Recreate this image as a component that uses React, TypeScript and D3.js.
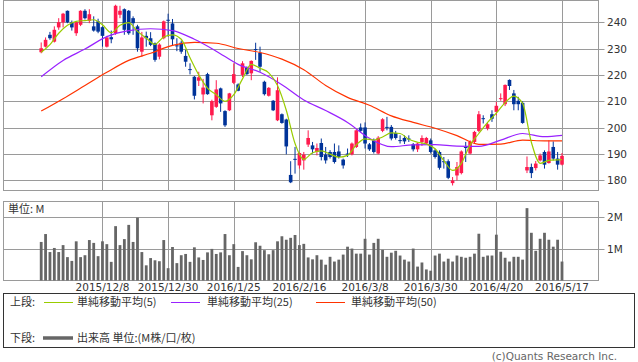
import React, { useEffect, useRef } from 'react';
import * as d3 from 'd3';

// daily OHLC, 2015/11/17 .. 2016/5/17 (120 sessions)
const open = [
  228.6, 230.7, 235.2, 232.6, 238.0, 239.9, 244.3, 239.9, 235.8, 239.0,
  244.3, 240.5, 238.4, 240.3, 238.1, 230.7, 234.3, 235.8, 242.8, 244.9,
  244.3, 241.5, 238.4, 228.8, 234.8, 233.9, 232.0, 226.9, 233.9, 240.9,
  239.5, 231.2, 232.2, 227.2, 222.2, 219.3, 217.8, 212.6, 220.3, 204.7,
  207.9, 214.9, 206.3, 206.6, 217.0, 216.4, 220.0, 222.8, 220.6, 229.8,
  228.4, 217.4, 212.1, 210.2, 202.8, 205.1, 203.1, 182.1, 188.2, 185.7,
  187.6, 193.6, 193.3, 190.8, 194.2, 189.8, 190.8, 190.8, 191.0, 187.9,
  190.2, 189.9, 192.7, 200.1, 200.1, 193.7, 195.2, 190.2, 198.8, 200.3,
  200.3, 198.0, 195.3, 196.1, 195.9, 193.7, 191.8, 194.6, 194.0, 195.2,
  191.4, 190.8, 187.3, 187.3, 179.0, 181.9, 182.8, 192.7, 190.2, 194.6,
  198.8, 203.6, 199.7, 205.1, 206.0, 211.0, 208.9, 218.1, 213.0, 210.2,
  209.4, 183.8, 185.1, 184.7, 187.6, 190.8, 186.6, 192.7, 188.3, 186.0,
];
const high = [
  232.3, 234.2, 236.3, 238.4, 241.5, 243.5, 244.4, 240.6, 240.3, 244.5,
  244.9, 244.9, 242.2, 241.3, 238.4, 234.8, 236.8, 246.6, 246.2, 245.2,
  244.6, 242.2, 239.0, 236.3, 236.4, 236.2, 232.3, 232.0, 240.6, 243.2,
  241.2, 233.9, 233.0, 229.5, 224.4, 219.6, 221.2, 218.5, 220.8, 210.6,
  218.0, 215.2, 206.6, 213.2, 224.4, 216.8, 225.2, 223.2, 225.5, 232.2,
  230.7, 217.8, 215.4, 210.5, 219.1, 205.4, 203.4, 187.3, 192.7, 190.6,
  190.8, 199.0, 194.6, 194.0, 195.9, 192.7, 191.5, 194.0, 193.3, 188.3,
  192.1, 194.4, 199.4, 201.6, 202.0, 194.2, 195.9, 196.8, 203.6, 204.1,
  201.0, 198.8, 197.1, 197.1, 197.1, 194.2, 194.4, 197.1, 196.5, 195.9,
  192.0, 191.4, 188.9, 188.0, 181.3, 187.0, 191.4, 194.6, 195.2, 198.8,
  206.3, 204.7, 201.8, 206.6, 209.8, 213.0, 216.4, 218.3, 214.3, 211.7,
  210.0, 189.1, 186.4, 187.4, 190.2, 191.4, 195.2, 194.8, 190.8, 190.4,
];
const low = [
  228.2, 230.4, 233.3, 232.3, 237.1, 238.0, 239.6, 236.8, 234.8, 238.5,
  241.0, 239.6, 236.4, 235.8, 230.7, 230.4, 232.0, 235.2, 241.5, 235.2,
  235.2, 235.2, 228.8, 226.9, 230.7, 230.9, 225.0, 225.9, 233.5, 234.5,
  231.0, 229.0, 228.0, 223.1, 220.2, 210.7, 215.8, 209.2, 212.5, 202.8,
  207.5, 206.0, 200.3, 206.3, 216.5, 213.8, 219.2, 220.0, 218.0, 225.7,
  221.2, 212.2, 211.8, 206.3, 202.5, 201.5, 189.9, 179.0, 182.6, 184.5,
  184.1, 192.7, 190.2, 189.5, 187.6, 186.4, 188.3, 186.4, 188.3, 184.5,
  188.9, 189.5, 192.3, 198.3, 192.1, 191.2, 190.2, 189.9, 198.3, 199.0,
  195.2, 195.5, 194.0, 193.8, 194.6, 191.0, 190.8, 193.1, 193.6, 190.2,
  188.3, 184.1, 184.5, 180.5, 178.1, 180.0, 182.3, 187.0, 189.9, 194.0,
  198.3, 201.6, 199.0, 202.2, 204.7, 210.2, 208.2, 214.3, 206.6, 206.6,
  201.5, 182.8, 180.9, 183.8, 187.2, 184.5, 186.4, 187.6, 184.1, 185.7,
];
const close = [
  230.1, 233.3, 233.9, 237.1, 240.0, 243.2, 239.9, 238.0, 240.0, 244.3,
  241.5, 243.0, 236.8, 236.4, 234.8, 234.2, 233.5, 246.2, 244.3, 237.1,
  235.8, 239.6, 230.1, 234.2, 233.9, 231.4, 225.7, 231.5, 240.3, 240.6,
  233.5, 230.9, 228.8, 225.0, 222.0, 212.1, 219.1, 215.2, 212.7, 210.1,
  214.5, 209.2, 200.9, 213.0, 220.3, 214.0, 224.4, 220.3, 225.3, 229.5,
  223.1, 212.7, 215.1, 206.6, 214.2, 201.8, 192.9, 179.3, 188.0, 190.4,
  189.8, 196.1, 191.8, 192.3, 188.9, 187.6, 188.9, 187.0, 188.9, 185.7,
  190.0, 194.0, 199.0, 198.8, 194.0, 191.8, 190.8, 196.2, 203.2, 200.1,
  195.9, 196.1, 195.1, 194.8, 195.8, 191.8, 194.0, 196.1, 196.1, 190.8,
  188.9, 184.8, 187.1, 181.0, 180.0, 185.1, 191.0, 192.5, 194.6, 198.4,
  205.1, 203.4, 201.3, 203.4, 208.3, 211.2, 216.2, 215.8, 208.9, 208.9,
  201.8, 185.1, 182.8, 186.4, 189.5, 186.0, 191.0, 188.3, 186.0, 189.3,
];
// volume, millions
const volume = [
  1.22, 1.47, 0.90, 1.03, 0.90, 1.12, 0.74, 0.62, 1.24, 0.74,
  0.80, 1.28, 1.19, 0.77, 1.24, 1.15, 0.59, 1.72, 1.12, 1.31,
  1.76, 1.22, 1.99, 0.90, 0.48, 0.71, 0.64, 0.61, 1.28, 0.39,
  1.06, 0.55, 0.80, 0.84, 0.59, 1.05, 0.73, 0.65, 0.89, 1.00,
  0.84, 0.89, 1.47, 0.80, 1.15, 0.43, 0.93, 0.80, 0.67, 1.21,
  1.10, 0.96, 0.83, 0.96, 1.24, 1.40, 1.29, 1.35, 1.44, 1.12,
  1.16, 0.73, 0.67, 0.80, 0.66, 0.50, 0.75, 0.60, 0.66, 0.82,
  1.07, 1.01, 0.85, 0.85, 1.32, 0.82, 1.19, 1.32, 0.97, 0.75,
  0.88, 0.94, 0.79, 0.66, 0.60, 1.01, 0.44, 0.57, 0.35, 0.31,
  0.79, 0.85, 0.60, 0.69, 0.60, 0.79, 0.75, 0.72, 0.75, 0.85,
  1.48, 0.75, 0.79, 0.79, 1.45, 0.91, 0.72, 0.60, 0.75, 0.75,
  0.66, 2.29, 1.51, 0.94, 1.32, 1.51, 1.29, 1.07, 1.29, 0.60,
];

// moving averages
const ma5Index = [
  0, 2, 4, 6, 8, 10, 12, 14, 16, 18, 20, 22, 24, 26, 28, 30, 32, 34, 36, 38,
  40, 42, 44, 46, 48, 50, 52, 54, 56, 58, 60, 62, 64, 66, 68, 70, 72, 74, 76, 78,
  80, 82, 84, 86, 88, 90, 92, 94, 96, 98, 100, 102, 104, 106, 108, 110, 112, 114, 116, 119,
];
const ma5 = [
  228.6, 231.5, 235.8, 238.8, 240.3, 240.6, 240.9, 239.0, 236.0, 238.8,
  239.8, 236.5, 234.0, 231.6, 234.4, 235.2, 233.5, 226.5, 220.0, 215.0,
  212.5, 210.0, 212.5, 218.5, 224.0, 222.5, 220.8, 216.0, 206.6, 194.0,
  188.0, 190.5, 191.2, 190.0, 188.8, 189.5, 193.5, 195.8, 195.3, 196.5,
  198.0, 197.8, 195.6, 194.5, 193.8, 192.0, 187.5, 183.8, 186.5, 193.5,
  197.8, 202.0, 205.5, 209.5, 212.0, 209.2, 194.5, 186.5, 187.6, 187.9,
];
const maLongIndex = [
  0, 5, 10, 15, 20, 25, 30, 35, 40, 45, 50, 55,
  60, 65, 70, 75, 80, 85, 90, 95, 100, 105, 110, 115, 119,
];
const ma25 = [
  219.3, 225.5, 229.8, 234.5, 236.8, 237.5, 236.8, 233.5, 229.0, 224.0, 221.0, 216.3,
  210.5, 206.5, 202.0, 196.0, 192.8, 193.5, 193.6, 193.0, 192.9, 195.3, 197.8, 196.6, 197.1,
];
const ma50 = [
  206.3, 211.0, 216.0, 221.0, 225.5, 228.2, 231.2, 232.3, 232.0, 230.0, 228.5, 226.0,
  222.0, 216.0, 211.5, 208.5, 204.5, 202.0, 199.8, 197.0, 193.7, 193.8, 195.3, 195.0, 195.0,
];

const tickIndex = [14, 29, 44, 59, 74, 89, 104, 119];
const tickLabels = [
  '2015/12/8', '2015/12/30', '2016/1/25', '2016/2/16',
  '2016/3/8', '2016/3/30', '2016/4/20', '2016/5/17',
];
const priceTicks = [180, 190, 200, 210, 220, 230, 240];
const volumeTicks = [1, 2];

const UP = '#ff1a4d';
const DOWN = '#003399';
const GRID = '#9a9a9a';
const NUM_FONT = 'DejaVu Sans, sans-serif';
const JP_FONT = '"Noto Sans CJK JP", sans-serif';

const App: React.FC = () => {
  const svgRef = useRef<SVGSVGElement>(null);

  useEffect(() => {
    if (!svgRef.current) return;
    const svg = d3.select(svgRef.current);
    svg.selectAll('*').remove();

    const left = 3.5;
    const right = 598.5;
    const x = d3.scaleLinear().domain([0, 119]).range([41.2, 562]);
    const y = d3.scaleLinear().domain([176.2, 248.2]).range([190.5, 0.5]);
    const yv = d3.scaleLinear().domain([0, 2.5]).range([280.5, 201.5]);
    const snap = (v: number) => Math.round(v) + 0.5;

    // ---- price panel
    const p = svg.append('g');
    priceTicks.forEach(t => {
      p.append('line')
        .attr('x1', left).attr('x2', right + 6)
        .attr('y1', snap(y(t))).attr('y2', snap(y(t)))
        .attr('stroke', GRID);
      p.append('text')
        .attr('x', 607).attr('y', y(t) + 4)
        .attr('font-family', NUM_FONT).attr('font-size', 10.5)
        .attr('fill', '#333')
        .text(t);
    });
    tickIndex.forEach(i => {
      p.append('line')
        .attr('x1', snap(x(i))).attr('x2', snap(x(i)))
        .attr('y1', 0.5).attr('y2', 190.5)
        .attr('stroke', GRID);
    });
    p.append('rect')
      .attr('x', left).attr('y', 0.5)
      .attr('width', right - left).attr('height', 190)
      .attr('fill', 'none').attr('stroke', GRID);

    // candles
    const candles = p.append('g');
    open.forEach((o, i) => {
      const c = close[i];
      const col = c >= o ? UP : DOWN;
      const cx = x(i);
      candles.append('line')
        .attr('x1', cx).attr('x2', cx)
        .attr('y1', y(high[i])).attr('y2', y(low[i]))
        .attr('stroke', col).attr('stroke-width', 1);
      const top = y(Math.max(o, c));
      const h = Math.max(1, Math.abs(y(o) - y(c)));
      candles.append('rect')
        .attr('x', cx - 1.8).attr('y', top)
        .attr('width', 3.6).attr('height', h)
        .attr('fill', col);
    });

    // moving averages
    const drawMa = (idx: number[], vals: number[], color: string) => {
      const line = d3.line<number>()
        .x((_, k) => x(idx[k]))
        .y(d => y(d))
        .curve(d3.curveMonotoneX);
      p.append('path')
        .datum(vals)
        .attr('fill', 'none')
        .attr('stroke', color)
        .attr('stroke-width', 1.2)
        .attr('d', line);
    };
    drawMa(maLongIndex, ma50, '#ff3300');
    drawMa(maLongIndex, ma25, '#9922ff');
    drawMa(ma5Index, ma5, '#99cc00');

    // ---- volume panel
    const v = svg.append('g');
    volumeTicks.forEach(t => {
      v.append('line')
        .attr('x1', left).attr('x2', right + 6)
        .attr('y1', snap(yv(t))).attr('y2', snap(yv(t)))
        .attr('stroke', GRID);
      v.append('text')
        .attr('x', 607).attr('y', yv(t) + 4)
        .attr('font-family', NUM_FONT).attr('font-size', 10.5)
        .attr('fill', '#333')
        .text(`${t}M`);
    });
    tickIndex.forEach((i, k) => {
      v.append('line')
        .attr('x1', snap(x(i))).attr('x2', snap(x(i)))
        .attr('y1', 201.5).attr('y2', 280.5)
        .attr('stroke', GRID);
      svg.append('text')
        .attr('x', x(i)).attr('y', 291)
        .attr('text-anchor', 'middle')
        .attr('font-family', NUM_FONT).attr('font-size', 10.5)
        .attr('fill', '#333')
        .text(tickLabels[k]);
    });
    v.append('rect')
      .attr('x', left).attr('y', 201.5)
      .attr('width', right - left).attr('height', 79)
      .attr('fill', 'none').attr('stroke', GRID);
    v.append('text')
      .attr('x', 8).attr('y', 213)
      .attr('font-family', JP_FONT).attr('font-size', 11)
      .attr('fill', '#333')
      .text('単位: M');
    volume.forEach((val, i) => {
      v.append('rect')
        .attr('x', x(i) - 1.4).attr('y', yv(val))
        .attr('width', 2.8).attr('height', yv(0) - yv(val))
        .attr('fill', '#666');
    });

    // ---- legend
    const lg = svg.append('g').attr('font-family', JP_FONT).attr('font-size', 11).attr('fill', '#333');
    lg.append('rect')
      .attr('x', 3.5).attr('y', 293.5).attr('width', 631).attr('height', 54)
      .attr('fill', 'none').attr('stroke', '#333');
    lg.append('text').attr('x', 10).attr('y', 306).text('上段:');
    const items = [
      { x0: 44, tx: 77, color: '#99cc00', label: '単純移動平均(5)' },
      { x0: 171, tx: 207, color: '#9922ff', label: '単純移動平均(25)' },
      { x0: 316, tx: 351, color: '#ff3300', label: '単純移動平均(50)' },
    ];
    items.forEach(it => {
      lg.append('line')
        .attr('x1', it.x0).attr('x2', it.x0 + 29)
        .attr('y1', 302.5).attr('y2', 302.5)
        .attr('stroke', it.color).attr('stroke-width', 1);
      lg.append('text').attr('x', it.tx).attr('y', 306).text(it.label);
    });
    lg.append('text').attr('x', 10).attr('y', 342).text('下段:');
    lg.append('line')
      .attr('x1', 43).attr('x2', 73)
      .attr('y1', 338).attr('y2', 338)
      .attr('stroke', '#666').attr('stroke-width', 3.5);
    lg.append('text').attr('x', 77).attr('y', 342).text('出来高 単位:(M株/口/枚)');

    svg.append('text')
      .attr('x', 617).attr('y', 360)
      .attr('text-anchor', 'end')
      .attr('font-family', NUM_FONT).attr('font-size', 10.5)
      .attr('fill', '#666')
      .text('(c)Quants Research Inc.');
  }, []);

  return (
    <svg
      ref={svgRef}
      width={638}
      height={362}
      style={{ position: 'absolute', left: 0, top: 0, background: '#fff' }}
    />
  );
};

export default App;
